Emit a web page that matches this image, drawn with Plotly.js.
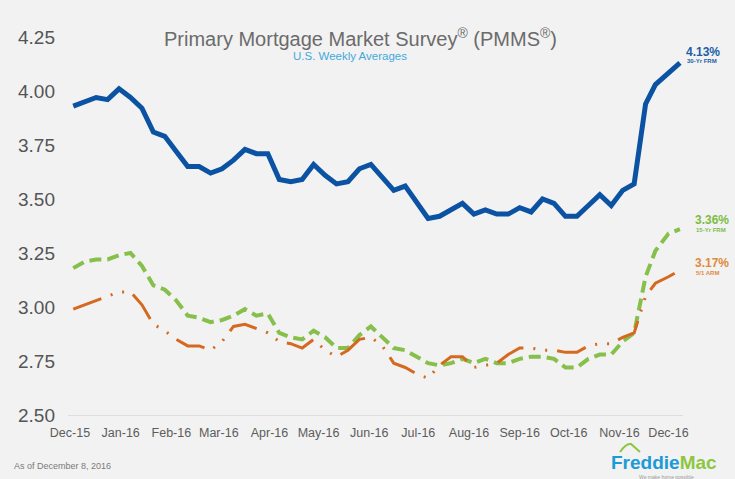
<!DOCTYPE html>
<html>
<head>
<meta charset="utf-8">
<script src="https://cdn.plot.ly/plotly-3.0.1.min.js"></script>
<style>
html,body{margin:0;padding:0;background:#f2f2f2;}
#chart{width:735px;height:479px;}
</style>
</head>
<body>
<div id="chart"></div>
<script>
// ---- data ----
var weekDates = [
  "2015-12-03","2015-12-10","2015-12-17","2015-12-24","2015-12-31",
  "2016-01-07","2016-01-14","2016-01-21","2016-01-28",
  "2016-02-04","2016-02-11","2016-02-18","2016-02-25",
  "2016-03-03","2016-03-10","2016-03-17","2016-03-24","2016-03-31",
  "2016-04-07","2016-04-14","2016-04-21","2016-04-28",
  "2016-05-05","2016-05-12","2016-05-19","2016-05-26",
  "2016-06-02","2016-06-09","2016-06-16","2016-06-23","2016-06-30",
  "2016-07-07","2016-07-14","2016-07-21","2016-07-28",
  "2016-08-04","2016-08-11","2016-08-18","2016-08-25",
  "2016-09-01","2016-09-08","2016-09-15","2016-09-22","2016-09-29",
  "2016-10-06","2016-10-13","2016-10-20","2016-10-27",
  "2016-11-03","2016-11-10","2016-11-17","2016-11-23",
  "2016-12-01","2016-12-08"
];
var frm30 = [
  3.93,3.95,3.97,3.96,4.01,
  3.97,3.92,3.81,3.79,
  3.72,3.65,3.65,3.62,
  3.64,3.68,3.73,3.71,3.71,
  3.59,3.58,3.59,3.66,
  3.61,3.57,3.58,3.64,
  3.66,3.60,3.54,3.56,3.48,
  3.41,3.42,3.45,3.48,
  3.43,3.45,3.43,3.43,
  3.46,3.44,3.50,3.48,3.42,
  3.42,3.47,3.52,3.47,
  3.54,3.57,3.94,4.03,
  4.08,4.13
];
var frm15 = [
  3.18,3.21,3.22,3.22,3.24,
  3.25,3.19,3.10,3.08,
  3.03,2.96,2.95,2.93,
  2.94,2.96,2.99,2.96,2.97,
  2.88,2.86,2.85,2.89,
  2.86,2.81,2.81,2.87,
  2.91,2.86,2.81,2.80,2.77,
  2.74,2.73,2.74,2.76,
  2.74,2.76,2.74,2.74,
  2.76,2.77,2.77,2.76,2.72,
  2.72,2.76,2.78,2.78,
  2.84,2.88,3.14,3.26,
  3.34,3.36
];
var arm51 = [
  2.99,3.01,3.03,3.05,3.07,
  3.07,3.01,2.92,2.89,
  2.85,2.82,2.82,2.80,
  2.84,2.91,2.92,2.90,2.88,
  2.84,2.83,2.81,2.85,
  2.80,2.77,2.80,2.85,
  2.86,2.82,2.74,2.72,2.69,
  2.67,2.73,2.77,2.77,
  2.72,2.73,2.74,2.78,
  2.81,2.81,2.80,2.80,2.79,
  2.79,2.82,2.83,2.83,
  2.86,2.88,3.05,3.11,
  3.14,3.17
];
var monthTicks = ["2015-12-01","2016-01-01","2016-02-01","2016-03-01","2016-04-01","2016-05-01",
  "2016-06-01","2016-07-01","2016-08-01","2016-09-01","2016-10-01","2016-11-01","2016-12-01"];
var monthLabels = ["Dec-15","Jan-16","Feb-16","Mar-16","Apr-16","May-16","Jun-16",
  "Jul-16","Aug-16","Sep-16","Oct-16","Nov-16","Dec-16"];
var yTicks = [2.50,2.75,3.00,3.25,3.50,3.75,4.00,4.25];
var yLabels = ["2.50","2.75","3.00","3.25","3.50","3.75","4.00","4.25"];
var endLabels = ["4.13%","3.36%","3.17%"];
var endNames = ["30-Yr FRM","15-Yr FRM","5/1 ARM"];

var F = "Liberation Sans, Arial, sans-serif";
var cBlue = "#0b52a3", cGreen = "#86c04b", cOrange = "#d4691f";

var traces = [
  {x: weekDates, y: frm15, type: "scatter", mode: "lines",
   line: {color: cGreen, width: 4, dash: "12px,6px"}, hoverinfo: "skip"},
  {x: weekDates, y: arm51, type: "scatter", mode: "lines",
   line: {color: cOrange, width: 3, dash: "30px,10px,2px,10px,2px,10px"}, hoverinfo: "skip"},
  {x: weekDates, y: frm30, type: "scatter", mode: "lines",
   line: {color: cBlue, width: 5}, hoverinfo: "skip"}
];

// plot area: left 68, right 683, top 37, bottom 415
function px(x){ return (x-68)/615; }
function py(y){ return (415-y)/378; }

var annotations = [
  {text: "Primary Mortgage Market Survey<sup>®</sup> (PMMS<sup>®</sup>)", xref:"paper", yref:"paper",
   x: px(360), y: py(37), xanchor:"center", yanchor:"middle", showarrow:false,
   font:{family:F, size:20, color:"#6b6b6b"}},
  {text: "U.S. Weekly Averages", xref:"paper", yref:"paper",
   x: px(350), y: py(56), xanchor:"center", yanchor:"middle", showarrow:false,
   font:{family:F, size:11.5, color:"#45a8dc"}},
  {text: "<b>"+endLabels[0]+"</b>", xref:"paper", yref:"paper", x: px(684), y: py(52),
   xanchor:"left", yanchor:"middle", showarrow:false, font:{family:F, size:12, color:"#1a5ea8"}},
  {text: "<b>"+endNames[0]+"</b>", xref:"paper", yref:"paper", x: px(685), y: py(61),
   xanchor:"left", yanchor:"middle", showarrow:false, font:{family:F, size:6, color:"#1a5ea8"}},
  {text: "<b>"+endLabels[1]+"</b>", xref:"paper", yref:"paper", x: px(693), y: py(220),
   xanchor:"left", yanchor:"middle", showarrow:false, font:{family:F, size:12, color:"#7cbc44"}},
  {text: "<b>"+endNames[1]+"</b>", xref:"paper", yref:"paper", x: px(694), y: py(230),
   xanchor:"left", yanchor:"middle", showarrow:false, font:{family:F, size:6, color:"#7cbc44"}},
  {text: "<b>"+endLabels[2]+"</b>", xref:"paper", yref:"paper", x: px(693), y: py(263),
   xanchor:"left", yanchor:"middle", showarrow:false, font:{family:F, size:12, color:"#e08a3c"}},
  {text: "<b>"+endNames[2]+"</b>", xref:"paper", yref:"paper", x: px(694), y: py(273),
   xanchor:"left", yanchor:"middle", showarrow:false, font:{family:F, size:6, color:"#e08a3c"}},
  {text: "As of December 8, 2016", xref:"paper", yref:"paper", x: px(12), y: py(466),
   xanchor:"left", yanchor:"middle", showarrow:false, font:{family:F, size:9, color:"#7a7a7a"}},
  {text: "<span style='color:#1b9ad6'>Freddie</span><span style='color:#8dc63f'>Mac</span>",
   xref:"paper", yref:"paper", x: px(664), y: py(462),
   xanchor:"center", yanchor:"middle", showarrow:false, font:{family:F, size:19, weight:"bold", color:"#1b9ad6"}},
  {text: "We make home possible", xref:"paper", yref:"paper", x: px(666), y: py(476.5),
   xanchor:"center", yanchor:"middle", showarrow:false, font:{family:F, size:5, color:"#9a9a9a"}}
];

var roof = "M " + px(620) + "," + py(452) + " Q " + px(626) + "," + py(443) + " " + px(631) + "," + py(444) +
           " L " + px(640) + "," + py(452);
var shapes = [
  {type:"path", xref:"paper", yref:"paper", path: roof, line:{color:"#8dc63f", width:2}}
];

var layout = {
  width: 735, height: 479,
  margin: {l: 68, r: 52, t: 37, b: 64, pad: 0},
  paper_bgcolor: "#f2f2f2", plot_bgcolor: "#f2f2f2",
  showlegend: false,
  font: {family: F},
  xaxis: {
    type: "date", range: ["2015-11-29 19:00", "2016-12-09 21:00"],
    tickmode: "array", tickvals: monthTicks, ticktext: monthLabels,
    showgrid: false, zeroline: false, showline: true, linecolor: "#dedede", linewidth: 1,
    ticks: "", ticklabelstandoff: 6,
    tickfont: {family: F, size: 12.5, color: "#5c5c5c"}, fixedrange: true
  },
  yaxis: {
    range: [2.5, 4.25], tickmode: "array", tickvals: yTicks, ticktext: yLabels,
    showgrid: false, zeroline: false, showline: false, ticks: "", ticklabelstandoff: 12,
    tickfont: {family: F, size: 19, color: "#555555"}, fixedrange: true
  },
  annotations: annotations,
  shapes: shapes
};

Plotly.newPlot("chart", traces, layout, {displayModeBar: false, staticPlot: true});
</script>
</body>
</html>
